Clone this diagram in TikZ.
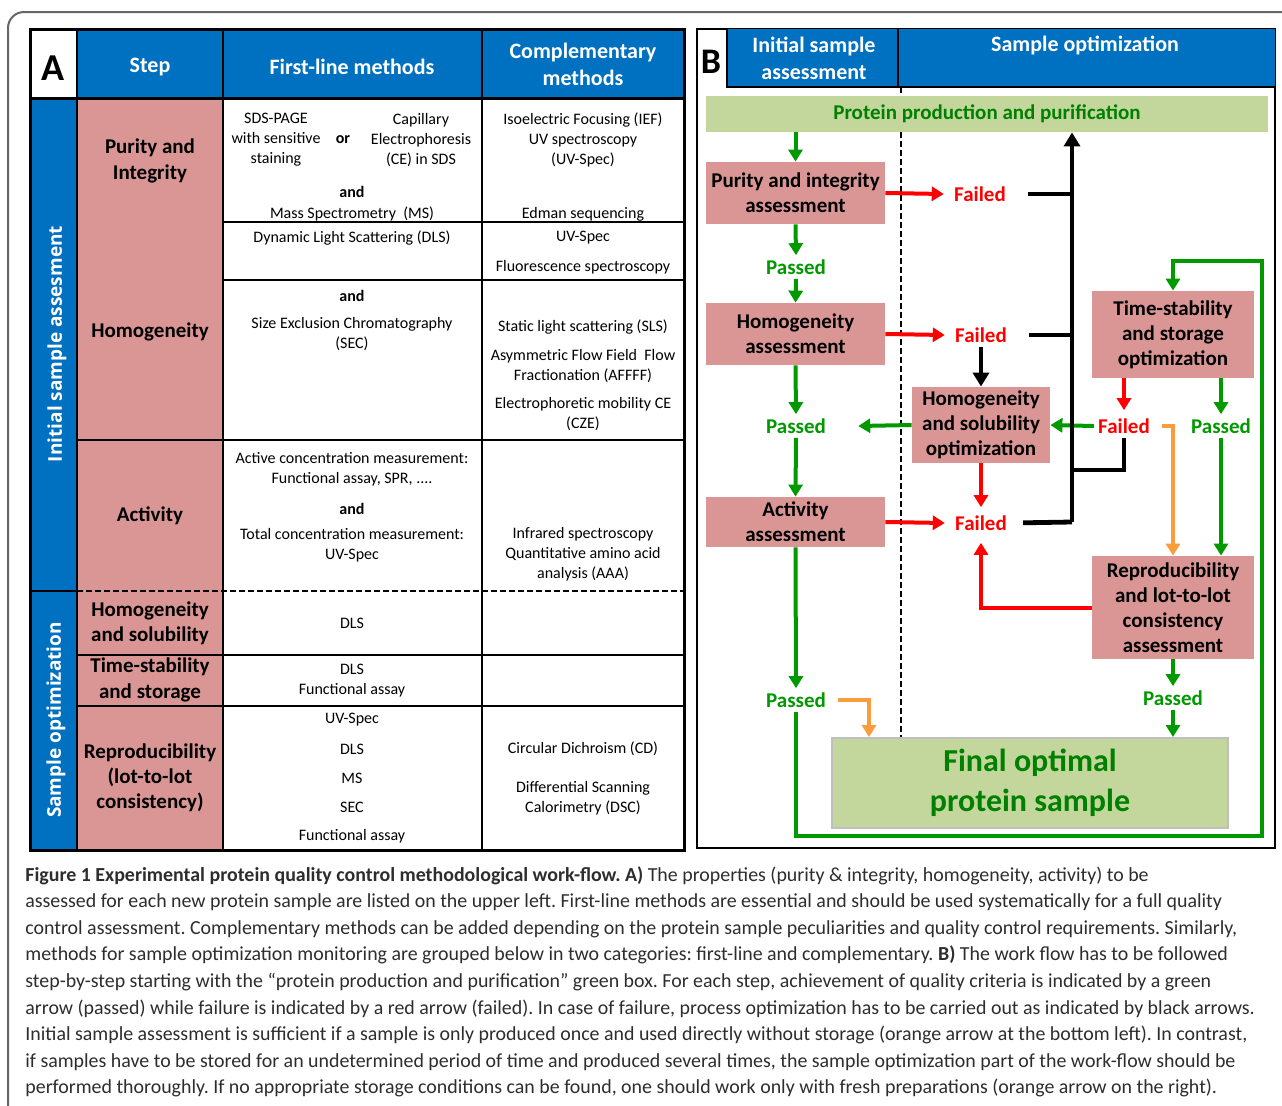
\documentclass[tikz,border=0pt]{standalone}
\usepackage{fontspec}
\setmainfont{Carlito}
\newfontfamily\sidefont{Open Sans}
\usetikzlibrary{arrows.meta}

\definecolor{hdrblue}{RGB}{0,112,192}
\definecolor{steppink}{RGB}{217,150,148}
\definecolor{barolive}{RGB}{195,214,155}
\definecolor{okgreen}{RGB}{0,153,0}
\definecolor{dkgreen}{RGB}{0,128,0}
\definecolor{failred}{RGB}{255,0,0}
\definecolor{orarrow}{RGB}{250,155,60}
\definecolor{captext}{RGB}{45,45,45}

\begin{document}
\frenchspacing
\begin{tikzpicture}
        [x=0.5pt, y=-0.5pt,
        cell/.style={font=\fontsize{8}{10}\selectfont, align=center, inner sep=0pt},
        steplab/.style={font=\fontsize{10.5}{12.6}\selectfont\bfseries, align=center, inner sep=0pt},
        head/.style={font=\fontsize{11}{13.5}\selectfont\bfseries, text=white, align=center, inner sep=0pt},
        side/.style={font=\sidefont\fontsize{9.5}{11}\selectfont\bfseries, text=white, rotate=90, inner sep=0pt},
        box/.style={fill=steppink, font=\fontsize{10.5}{12.6}\selectfont\bfseries, align=center, inner sep=0pt},
        passed/.style={text=okgreen, font=\fontsize{10.5}{12}\selectfont\bfseries, inner sep=2pt},
        failed/.style={text=failred, font=\fontsize{10.5}{12}\selectfont\bfseries, inner sep=2pt},
        garrow/.style={okgreen, line width=2pt, -{Triangle[width=7pt,length=6pt]}},
        rarrow/.style={failred, line width=2pt, -{Triangle[width=7pt,length=6pt]}},
        oarrow/.style={orarrow, line width=2pt, -{Triangle[width=7pt,length=6pt]}},
        barrow/.style={black, line width=2.4pt, -{Triangle[width=8pt,length=7pt]}},
        bline/.style={black, line width=2.4pt}]

        \clip (0,0) rectangle (1282,1105);
        \fill[white] (0,0) rectangle (1282,1105);
        \draw[black!60, line width=1pt, rounded corners=8pt] (8,1110) |- (1290,12);

        % panel A
        \fill[hdrblue] (77,29) rectangle (684,98);
        \fill[hdrblue] (30,98) rectangle (77,850);
        \fill[steppink] (77,98) rectangle (223,850);
        \draw[line width=0.6pt] (223,222) -- (684,222) (223,280) -- (684,280)
                (77,440) -- (684,440) (77,655) -- (684,655) (77,706) -- (684,706);
        \draw[line width=1pt, dash pattern=on 3pt off 1.5pt] (77,591) -- (684,591);
        \draw[line width=1pt] (30,591) -- (77,591);
        \draw[line width=1pt] (77,29) -- (77,850) (223,29) -- (223,850) (482,29) -- (482,850);
        \draw[line width=1.5pt] (30,98) -- (684,98);
        \draw[line width=1.5pt] (30,29) rectangle (684,850);

        \node[font=\fontsize{19}{20}\selectfont\bfseries] (labA) at (53,68) {A};
        \node[head] (hstep) at (150,67) {Step};
        \node[head] (hfirst) at (352,67) {First-line methods};
        \node[head] (hcomp) at (583,64) {Complementary\\methods};
        \node[side] (sinit) at (57,344) {Initial sample assesment};
        \node[side] (sopt) at (56,720) {Sample optimization};

        \node[steplab] (spur) at (150,161) {Purity and\\Integrity};
        \node[steplab] (shom) at (150,332) {Homogeneity};
        \node[steplab] (sact) at (150,516) {Activity};
        \node[steplab] (shs) at (150,623) {Homogeneity\\and solubility};
        \node[steplab] (sts) at (150,680) {Time-stability\\and storage};
        \node[steplab] (srep) at (150,778) {Reproducibility\\(lot-to-lot\\consistency)};

        \node[cell] (m1a) at (276,140) {SDS-PAGE\\with sensitive\\staining};
        \node[cell, font=\fontsize{8}{10}\selectfont\bfseries] (m1or) at (343,140) {or};
        \node[cell] (m1b) at (421,140) {Capillary\\Electrophoresis\\(CE) in SDS};
        \node[cell, font=\fontsize{8}{10}\selectfont\bfseries] (m1and) at (352,192) {and};
        \node[cell] (m1c) at (352,214) {Mass Spectrometry~~(MS)};
        \node[cell] (c1a) at (583,140) {Isoelectric Focusing (IEF)\\UV spectroscopy\\(UV-Spec)};
        \node[cell] (c1b) at (583,214) {Edman sequencing};

        \node[cell] (m2) at (352,238) {Dynamic Light Scattering (DLS)};
        \node[cell] (c2a) at (583,238) {UV-Spec};
        \node[cell] (c2b) at (583,267) {Fluorescence spectroscopy};

        \node[cell, font=\fontsize{8}{10}\selectfont\bfseries] (m3and) at (352,296) {and};
        \node[cell] (m3) at (352,334) {Size Exclusion Chromatography\\(SEC)};
        \node[cell] (c3a) at (583,327) {Static light scattering (SLS)};
        \node[cell] (c3b) at (583,366) {Asymmetric Flow Field~~Flow\\Fractionation (AFFFF)};
        \node[cell] (c3c) at (583,414) {Electrophoretic mobility CE\\(CZE)};

        \node[cell] (m4a) at (352,469) {Active concentration measurement:\\Functional assay, SPR, ....};
        \node[cell, font=\fontsize{8}{10}\selectfont\bfseries] (m4and) at (352,509) {and};
        \node[cell] (m4b) at (352,545) {Total concentration measurement:\\UV-Spec};
        \node[cell] (c4) at (583,554) {Infrared spectroscopy\\Quantitative amino acid\\analysis (AAA)};

        \node[cell] (m5) at (352,623) {DLS};
        \node[cell] (m6) at (352,681) {DLS\\Functional assay};
        \node[cell] (m7a) at (352,720) {UV-Spec};
        \node[cell] (m7b) at (352,749) {DLS};
        \node[cell] (m7c) at (352,778) {MS};
        \node[cell] (m7d) at (352,807) {SEC};
        \node[cell] (m7e) at (352,836) {Functional assay};
        \node[cell] (c7a) at (583,749) {Circular Dichroism (CD)};
        \node[cell] (c7b) at (583,798) {Differential Scanning\\Calorimetry (DSC)};

        % panel B
        \draw[line width=1pt] (697,29) rectangle (1275,848);
        \fill[hdrblue] (727,29) rectangle (1275,87);
        \draw[line width=1pt] (727,29) -- (727,87) -- (1275,87) (898,29) -- (898,87);
        \draw[line width=0.8pt, dash pattern=on 3pt off 1.5pt] (901,87) -- (901,738);
        \node[font=\fontsize{18}{20}\selectfont\bfseries] (labB) at (711,62) {B};
        \node[head] (hinit) at (814,58) {Initial sample\\assessment};
        \node[head] (hopt) at (1085,45) {Sample optimization};

        \node[fill=barolive, minimum width=281pt, minimum height=18pt, inner sep=0pt,
              text=dkgreen, font=\fontsize{10.5}{12}\selectfont\bfseries] (prot) at (987,114)
              {Protein production and purification};
        \node[box, minimum width=89.5pt, minimum height=31pt] (pur) at (795.5,193) {Purity and integrity\\assessment};
        \node[box, minimum width=89.5pt, minimum height=31pt] (hom) at (795.5,334) {Homogeneity\\assessment};
        \node[box, minimum width=89.5pt, minimum height=25pt] (act) at (795.5,522) {Activity\\assessment};
        \node[box, minimum width=69pt, minimum height=38pt] (homsol) at (981,425) {Homogeneity\\and solubility\\optimization};
        \node[box, minimum width=81pt, minimum height=43.5pt] (tsto) at (1173,334.5) {Time-stability\\and storage\\optimization};
        \node[box, minimum width=81pt, minimum height=51.5pt] (repro) at (1173,607.5) {Reproducibility\\and lot-to-lot\\consistency\\assessment};
        \node[fill=barolive, draw=black!25, line width=1pt, minimum width=198pt, minimum height=45pt,
              inner sep=0pt, align=center, text=dkgreen, font=\fontsize{16}{20}\selectfont\bfseries]
              (final) at (1030,783) {Final optimal\\protein sample};

        \node[failed] (f1) at (980,194) {Failed};
        \node[failed] (f2) at (981,335) {Failed};
        \node[failed] (f3) at (981,523) {Failed};
        \node[failed] (f4) at (1124,426) {Failed};
        \node[passed] (p1) at (796,267) {Passed};
        \node[passed] (p2) at (796,426) {Passed};
        \node[passed] (p3) at (1221,426) {Passed};
        \node[passed] (p4) at (1173,698) {Passed};
        \node[passed] (p5) at (796,700) {Passed};

        \coordinate (trunk) at (1072,522);
        \coordinate (tjoin) at (1072,470);
        \coordinate (loopbr) at (1262,836);
        \coordinate (looptr) at (1262,261);

        % passed path
        \draw[garrow] (prot.south -| pur.north) -- (pur.north);
        \draw[garrow] (pur.south) -- (p1.north);
        \draw[garrow] (p1.south) -- (hom.north);
        \draw[garrow] (hom.south) -- (p2.north);
        \draw[garrow] (p2.south) -- (act.north);
        \draw[garrow] (act.south) -- (p5.north);
        \draw[garrow] (homsol.west) -- ([xshift=14pt]p2.east);
        \draw[garrow] (p5.south) |- (loopbr) -- (looptr) -| (tsto.north);
        \draw[garrow] (tsto.south -| p3) -- (p3.north);
        \draw[garrow] (p3.south) -- (p3.south |- repro.north);
        \draw[garrow] (f4.west) -- (homsol.east);
        \draw[garrow] (repro.south) -- (p4.north);
        \draw[garrow] (p4.south) -- (p4.south |- final.north);

        % failed path
        \draw[rarrow] (pur.east) -- ([xshift=-3pt]f1.west);
        \draw[rarrow] (hom.east) -- ([xshift=-3pt]f2.west);
        \draw[rarrow] (act.east) -- ([xshift=-3pt]f3.west);
        \draw[rarrow] (homsol.south) -- ([yshift=2pt]f3.north);
        \draw[rarrow] (tsto.south -| f4) -- ([yshift=2pt]f4.north);
        \draw[rarrow] (repro.west) -| ([yshift=-4pt]f3.south);

        % optimization
        \draw[bline, shorten <=9pt] (f1.east) -- (f1.east -| trunk);
        \draw[bline, shorten <=9pt] (f2.east) -- (f2.east -| trunk);
        \draw[bline, shorten <=6pt] (f3.east) -- (trunk);
        \draw[bline] (f4.south) |- (tjoin);
        \draw[barrow] (trunk) -- (prot.south -| trunk);
        \draw[barrow] (f2.south) -- (homsol.north);

        % storage shortcut
        \draw[oarrow, shorten <=4pt] (p5.east) -| ([xshift=19pt]final.north west);
        \draw[oarrow, shorten <=4pt] (f4.east) -| (repro.north);

        % caption
        \node[anchor=north west, inner sep=0pt, align=left, text=captext,
              font=\fontsize{9.95}{13.3}\selectfont] (caption) at (25,866)
        {\textbf{Figure 1 Experimental protein quality control methodological work-flow. A)} The properties (purity \& integrity, homogeneity, activity) to be\\
        assessed for each new protein sample are listed on the upper left. First-line methods are essential and should be used systematically for a full quality\\
        control assessment. Complementary methods can be added depending on the protein sample peculiarities and quality control requirements. Similarly,\\
        methods for sample optimization monitoring are grouped below in two categories: first-line and complementary. \textbf{B)} The work flow has to be followed\\
        step-by-step starting with the “protein production and purification” green box. For each step, achievement of quality criteria is indicated by a green\\
        arrow (passed) while failure is indicated by a red arrow (failed). In case of failure, process optimization has to be carried out as indicated by black arrows.\\
        Initial sample assessment is sufficient if a sample is only produced once and used directly without storage (orange arrow at the bottom left). In contrast,\\
        if samples have to be stored for an undetermined period of time and produced several times, the sample optimization part of the work-flow should be\\
        performed thoroughly. If no appropriate storage conditions can be found, one should work only with fresh preparations (orange arrow on the right).};

    \end{tikzpicture}
\end{document}
